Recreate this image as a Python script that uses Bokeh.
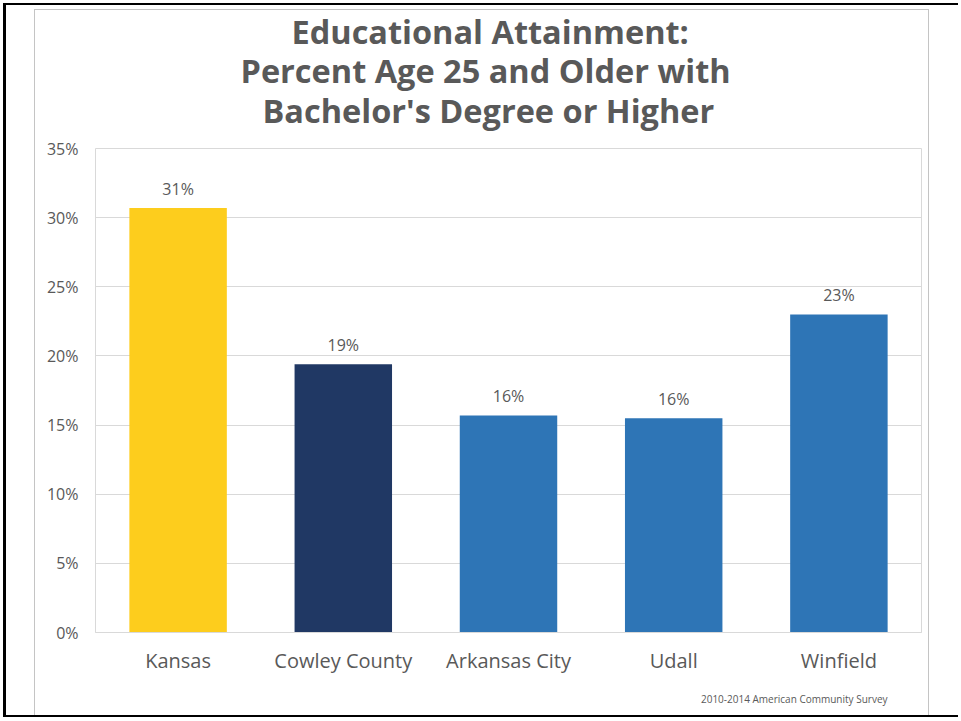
from bokeh.plotting import figure
from bokeh.models import (ColumnDataSource, LabelSet, NumeralTickFormatter,
                          FixedTicker, Range1d, Title)
from bokeh.core.properties import value
from bokeh.embed import file_html
from bokeh.resources import INLINE

# ---- data ----
categories = ["Kansas", "Cowley County", "Arkansas City", "Udall", "Winfield"]
values = [0.307, 0.194, 0.157, 0.155, 0.230]
colors = ["#FDCD1D", "#203864", "#2E75B6", "#2E75B6", "#2E75B6"]
y_ticks = [0, 0.05, 0.10, 0.15, 0.20, 0.25, 0.30, 0.35]
title_lines = ["Educational Attainment:",
               "Percent Age 25 and Older with",
               "Bachelor's Degree or Higher"]
source_note = "2010-2014 American Community Survey"

W, H = 955, 714          # canvas size (page offset 6,5 because of frame borders)
FONT = "Open Sans"
GREY = "#595959"
LINE = "#d9d9d9"
BOX = "#c4c4c4"

src = ColumnDataSource(dict(
    cat=categories, val=values, color=colors,
    lbl=["{:.0f}%".format(v * 100) for v in values],
))

p = figure(x_range=categories, y_range=Range1d(0, 0.35),
           width=W, height=H, output_backend="svg", toolbar_location=None,
           min_border_left=89, min_border_right=40,
           min_border_top=143, min_border_bottom=87, title=None)

grad = "linear-gradient({c},{c})".format(c=BOX)
p.styles = {
    "position": "absolute", "left": "3px", "top": "3px",
    "border-left": "3px solid #000", "border-top": "2px solid #000",
    "border-bottom": "2px solid #000",
    "background": (f"{grad} 28px 4px / 1px 100% no-repeat, "
                   f"{grad} 922px 4px / 1px 100% no-repeat, "
                   f"{grad} 28px 4px / 895px 1px no-repeat, #ffffff"),
}
p.background_fill_color = "white"
p.border_fill_color = None
p.outline_line_color = LINE
p.outline_line_width = 1

p.vbar(x="cat", top="val", width=0.59, color="color", line_color=None, source=src)

# axes
p.yaxis.ticker = FixedTicker(ticks=y_ticks)
p.yaxis.formatter = NumeralTickFormatter(format="0%")
p.yaxis.axis_line_color = None
p.yaxis.major_tick_line_color = None
p.yaxis.minor_tick_line_color = None
p.yaxis.major_label_standoff = 11
p.yaxis.major_label_text_font = FONT
p.yaxis.major_label_text_font_size = "16px"
p.yaxis.major_label_text_color = GREY

p.xaxis.axis_line_color = LINE
p.xaxis.major_tick_line_color = None
p.xaxis.minor_tick_line_color = None
p.xaxis.major_label_standoff = 8
p.xaxis.major_label_text_font = FONT
p.xaxis.major_label_text_font_size = "20px"
p.xaxis.major_label_text_color = GREY

p.xgrid.grid_line_color = None
p.ygrid.grid_line_color = LINE
p.ygrid.grid_line_width = 1

labels = LabelSet(x="cat", y="val", text="lbl", source=src, y_offset=8,
                  text_align="center", text_baseline="bottom",
                  text_font=value(FONT), text_font_size="16px", text_color=GREY)
p.add_layout(labels)

# blank spacer between the title block and the plot frame
p.add_layout(Title(text=" ", text_font=FONT, text_font_size="10px", standoff=2),
             "above")

# title lines: added nearest-to-frame first
offsets = [196, 145, 167]
standoffs = [-4, -11, -4]
for t, off, so in reversed(list(zip(title_lines, offsets, standoffs))):
    p.add_layout(Title(text=t, align="left", offset=off, standoff=so,
                       text_font=FONT, text_font_style="bold",
                       text_font_size="32.5px", text_color=GREY), "above")

p.add_layout(Title(text=source_note, align="right", offset=34, standoff=26,
                   text_font=FONT, text_font_style="normal",
                   text_font_size="10px", text_color=GREY), "below")

open("out.html", "w").write(file_html(p, INLINE))
